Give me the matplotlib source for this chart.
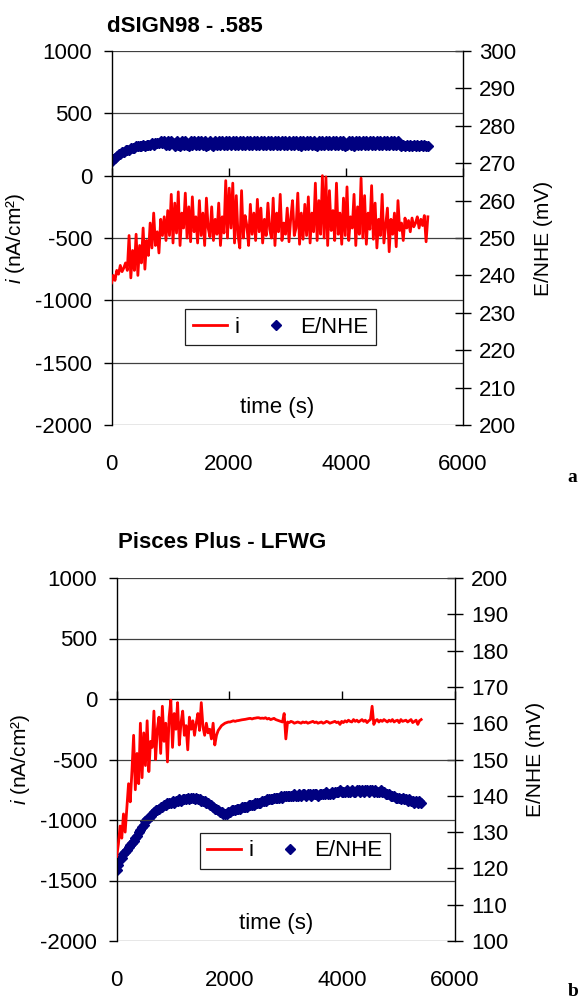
import numpy as np
import matplotlib
matplotlib.use("Agg")
import matplotlib.pyplot as plt

plt.rcParams['font.family'] = ['Liberation Sans', 'DejaVu Sans']
plt.rcParams['mathtext.fontset'] = 'custom'
plt.rcParams['mathtext.it'] = 'Liberation Sans:italic'
plt.rcParams['mathtext.rm'] = 'Liberation Sans'

# ---------------- data ----------------
dt = 30  # seconds between samples
titles = ["dSIGN98 - .585", "Pisces Plus - LFWG"]
panel_tags = ["a", "b"]
x_ticks = [0, 2000, 4000, 6000]
i_ticks = [1000, 500, 0, -500, -1000, -1500, -2000]
e_ticks_a = [300, 290, 280, 270, 260, 250, 240, 230, 220, 210, 200]
e_ticks_b = [200, 190, 180, 170, 160, 150, 140, 130, 120, 110, 100]

i_a = [
    -860, -800, -840, -760, -790, -720, -770, -740, -700, -760,
    -480, -820, -600, -760, -470, -800, -560, -700, -420, -750, -520,
    -640, -380, -580, -300, -560, -450, -620, -350, -480, -330,
    -520, -280, -480, -150, -540, -220, -460, -130, -560, -300,
    -420, -140, -500, -250, -530, -170, -450, -330, -540, -200,
    -480, -300, -560, -180, -420, -490, -250, -520, -350, -470,
    -220, -560, -330, -460, -40, -500, -100, -420, -60, -540,
    -160, -480, -580, -120, -500, -320, -400, -560, -230, -470,
    -300, -520, -190, -450, -260, -540, -350, -480, -220, -430,
    -500, -180, -560, -300, -450, -150, -520, -380, -470, -260,
    -530, -340, -200, -480, -420, -140, -550, -300, -510, -230,
    -480, -170, -540, -300, -450, -60, -520, -200, -470, 0,
    -500, -10, -560, -120, -440, -280, -520, -60, -470, -300,
    -550, -180, -480, -90, -520, -330, -420, -150, -560, -250,
    -470, -20, -500, -160, -550, -300, -430, -80, -510, -220,
    -580, -350, -480, -150, -540, -400, -260, -610, -350, -470,
    -300, -570, -200, -440, -380, -520, -340, -420, -360, -450,
    -340, -410, -380, -330, -420, -350, -400, -320, -530, -330,
]

e_a = [
    270.5, 271.0, 271.5, 272.0, 272.5, 272.5, 273.0, 273.0, 273.5, 273.5,
    273.5, 274.0, 274.0, 274.0, 274.5, 274.5, 274.5, 274.5, 275.0, 274.5, 275.0,
    275.0, 275.0, 275.5, 275.0, 275.5, 275.5, 275.5, 276.0, 275.5, 276.0,
    275.0, 276.0, 275.0, 276.0, 275.5, 274.5, 276.0, 275.0, 274.5, 276.0,
    275.0, 276.0, 275.0, 274.5, 276.0, 275.0, 276.0, 275.0, 276.0, 275.0,
    276.0, 275.0, 276.0, 274.5, 275.0, 276.0, 275.0, 274.5, 276.0, 275.0,
    276.0, 275.0, 276.0, 275.0, 276.0, 275.0, 276.0, 275.0, 276.0, 275.0,
    276.0, 275.0, 276.0, 275.0, 276.0, 275.0, 276.0, 275.0, 276.0, 275.0,
    276.0, 275.0, 276.0, 275.0, 276.0, 275.0, 276.0, 275.0, 276.0, 275.0,
    276.0, 275.0, 276.0, 275.0, 276.0, 275.0, 276.0, 275.0, 276.0, 275.0,
    276.0, 275.0, 276.0, 275.0, 276.0, 275.0, 276.0, 274.5, 276.0, 275.0,
    276.0, 275.0, 276.0, 275.0, 276.0, 275.0, 274.5, 276.0, 275.0, 276.0,
    275.0, 276.0, 275.0, 276.0, 275.0, 276.0, 275.0, 276.0, 275.0, 276.0,
    275.0, 276.0, 274.5, 275.0, 276.0, 275.0, 276.0, 274.5, 276.0, 275.0,
    276.0, 275.0, 276.0, 275.0, 276.0, 275.0, 276.0, 275.0, 276.0, 275.0,
    276.0, 275.0, 276.0, 275.0, 276.0, 275.0, 276.0, 275.0, 276.0, 275.0,
    276.0, 275.0, 276.0, 275.0, 274.5, 275.0, 274.5, 275.0, 274.5, 275.0,
    274.5, 275.0, 274.5, 275.0, 274.5, 275.0, 274.5, 275.0, 274.5, 274.5,
]

i_b = [
    -1300, -1200, -1050, -1150, -950, -1100, -900, -700, -850, -600,
    -300, -750, -450, -700, -200, -650, -280, -550, -180, -600, -350,
    -400, -100, -500, -250, -150, -450, -60, -350, -200, -520,
    -150, -10, -400, -120, -250, -30, -380, -200, -100, -300,
    -220, -420, -150, -250, -180, -300, -200, -120, -260, -30,
    -230, -300, -200, -280, -250, -330, -200, -380, -300, -260,
    -240, -220, -210, -200, -195, -190, -190, -185, -180, -185,
    -180, -178, -175, -172, -170, -168, -165, -162, -160, -165,
    -160, -158, -155, -155, -160, -158, -160, -155, -165, -160,
    -170, -165, -160, -170, -175, -180, -185, -190, -120, -330,
    -190, -195, -185, -190, -200, -195, -190, -195, -200, -190,
    -195, -190, -200, -195, -190, -185, -195, -190, -200, -195,
    -190, -200, -195, -185, -190, -200, -195, -190, -185, -195,
    -190, -210, -185, -195, -180, -190, -175, -185, -190, -170,
    -185, -175, -190, -180, -170, -185, -175, -195, -180, -170,
    -60, -210, -180, -170, -190, -175, -185, -170, -180, -190,
    -175, -185, -170, -190, -180, -175, -195, -170, -185, -180,
    -175, -190, -180, -170, -195, -185, -175, -210, -180, -170,
]

e_b = [
    119.5, 121.0, 122.5, 123.0, 124.0, 124.5, 125.0, 126.0, 126.5, 127.0,
    127.5, 128.5, 129.0, 130.0, 130.5, 131.5, 132.0, 133.0, 133.5, 134.0, 134.5,
    135.0, 135.5, 136.0, 136.0, 136.5, 137.0, 137.0, 137.5, 137.5, 138.0,
    138.0, 138.0, 138.5, 138.0, 138.5, 138.5, 139.0, 138.5, 139.0, 139.0,
    139.0, 139.5, 139.0, 139.5, 139.5, 139.0, 139.5, 139.0, 139.0, 138.5,
    138.5, 138.5, 138.0, 138.0, 137.5, 137.5, 137.0, 136.5, 136.5, 136.0,
    135.5, 135.5, 135.0, 135.0, 135.0, 135.5, 135.5, 136.0, 136.0, 136.0,
    136.5, 136.5, 136.5, 137.0, 137.0, 137.0, 137.0, 137.5, 137.5, 137.5,
    137.5, 138.0, 138.0, 138.0, 138.0, 138.5, 138.5, 138.5, 139.0, 139.0,
    139.0, 139.0, 139.5, 139.5, 139.5, 139.5, 140.0, 139.5, 140.0, 140.0,
    140.0, 140.0, 140.0, 140.0, 140.5, 140.0, 140.0, 140.5, 140.0, 140.5,
    140.5, 140.0, 140.5, 140.5, 140.0, 140.5, 140.5, 140.5, 140.0, 140.5,
    140.5, 140.5, 140.5, 141.0, 140.5, 140.5, 141.0, 140.5, 141.0, 141.0,
    141.0, 141.5, 141.0, 141.0, 141.0, 141.5, 141.0, 141.0, 141.5, 141.0,
    141.0, 141.5, 141.5, 141.0, 141.5, 141.0, 141.5, 141.5, 141.0, 141.5,
    141.5, 141.0, 141.5, 141.0, 141.0, 141.5, 141.0, 141.0, 140.5, 140.5,
    140.5, 140.0, 140.0, 140.0, 139.5, 139.5, 139.5, 139.0, 139.5, 139.0,
    139.0, 138.5, 139.0, 138.5, 138.5, 138.0, 138.5, 138.0, 138.5, 138.0,
]

t_a = np.arange(len(i_a)) * dt
t_b = np.arange(len(i_b)) * dt

# ---------------- figure ----------------
W, H = 580, 1002
fig = plt.figure(figsize=(W / 100, H / 100), dpi=100)

RED = '#FF0000'
NAVY = '#000080'
FS = 16

def px_rect(l, r, top, bot):
    return [l / W, 1 - bot / H, (r - l) / W, (bot - top) / H]

panels = [
    dict(rect=px_rect(111.5, 463, 51, 425), t=t_a, i=i_a, e=e_a, eticks=e_ticks_a,
         elim=(200, 300), title_xy=(107, 26), tag_xy=(572, 478), leg=(0.482, 0.262)),
    dict(rect=px_rect(116.7, 455, 578, 941), t=t_b, i=i_b, e=e_b, eticks=e_ticks_b,
         elim=(100, 200), title_xy=(118, 543), tag_xy=(573, 992), leg=(0.527, 0.248)),
]

for k, p in enumerate(panels):
    ax = fig.add_axes(p['rect'])
    ax2 = ax.twinx()
    ax.set_zorder(ax2.get_zorder() + 1)
    ax.patch.set_visible(False)

    ax.set_xlim(0, 6000)
    ax.set_ylim(-2000, 1000)
    ax2.set_ylim(*p['elim'])

    # horizontal gridlines
    for v in i_ticks:
        ax.axhline(v, color='#404040', lw=0.9, zorder=0)

    ln, = ax.plot(p['t'], p['i'], color=RED, lw=2.0, zorder=3, label='i')
    mk, = ax2.plot(p['t'], p['e'], linestyle='none', marker='D', ms=5.5,
                   color=NAVY, mec=NAVY, label='E/NHE')

    # spines
    for s in ['top', 'bottom']:
        ax.spines[s].set_visible(False)
        ax2.spines[s].set_visible(False)
    ax.spines['right'].set_visible(False)
    ax2.spines['left'].set_visible(False)
    ax.spines['left'].set_linewidth(1.0)
    ax2.spines['right'].set_linewidth(1.0)

    # left axis
    ax.set_yticks(i_ticks)
    ax.set_yticklabels([str(v) for v in i_ticks])
    ax.tick_params(axis='y', direction='out', length=6, width=1.0, pad=8, labelsize=FS)
    ax.set_ylabel(r'$\it{i}$ (nA/cm²)', fontsize=15, labelpad=6)

    # right axis
    ax2.set_yticks(p['eticks'])
    ax2.set_yticklabels([str(v) for v in p['eticks']])
    ax2.tick_params(axis='y', direction='inout', length=11, width=1.0, pad=6, labelsize=FS)
    ax2.set_ylabel('E/NHE (mV)', fontsize=15, labelpad=13)

    # x tick labels at bottom without tick marks
    ax.set_xticks(x_ticks)
    ax.set_xticklabels([str(v) for v in x_ticks])
    ax.tick_params(axis='x', length=0, pad=21, labelsize=FS)

    # x axis line crossing at i = 0
    sec = ax.secondary_xaxis(2 / 3)
    sec.set_xticks(x_ticks)
    sec.set_xticklabels([])
    sec.tick_params(direction='out', length=6, width=1.0)
    sec.spines['bottom'].set_linewidth(1.0)

    ax.text(0.47, 0.048, 'time (s)', transform=ax.transAxes, ha='center', va='center',
            fontsize=FS)

    leg = ax.legend([ln, mk], ['i', 'E/NHE'], ncol=2, loc='center',
                    bbox_to_anchor=p['leg'], fontsize=FS, frameon=True, fancybox=False,
                    framealpha=1, edgecolor='#202020', handlelength=1.5,
                    columnspacing=0.9, handletextpad=0.35, borderpad=0.35,
                    markerscale=1.0)
    leg.get_frame().set_linewidth(0.9)

    tx, ty = p['title_xy']
    fig.text(tx / W, 1 - ty / H, titles[k], ha='left', va='center', fontsize=16,
             fontweight='bold')
    gx, gy = p['tag_xy']
    fig.text(gx / W, 1 - gy / H, panel_tags[k], ha='center', va='center', fontsize=14,
             fontweight='bold', family='Liberation Serif')

fig.savefig('out.png', dpi=100)
